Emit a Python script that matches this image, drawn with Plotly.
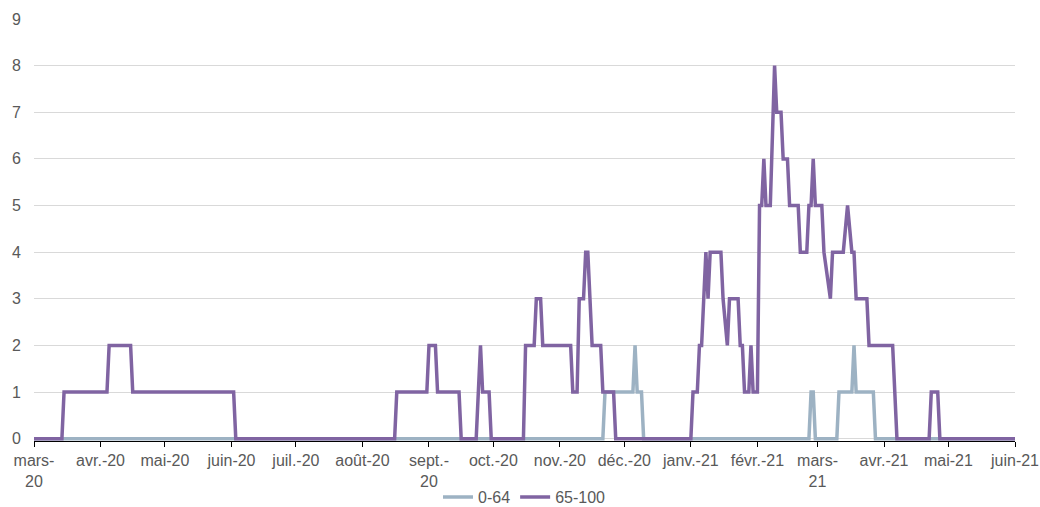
import pandas as pd
import plotly.graph_objs as go

# day offsets from 2020-03-01 where each series changes level, and the level there
start = pd.Timestamp("2020-03-01")

young_days = [0, 265, 266, 279, 280, 281, 283, 284, 361, 362, 363, 364,
              374, 375, 381, 382, 383, 391, 392, 457]
young_vals = [0, 0, 1, 1, 2, 1, 1, 0, 0, 1, 1, 0,
              0, 1, 1, 2, 1, 1, 0, 0]

old_days = [0, 13, 14, 34, 35, 45, 46, 93, 94, 168, 169, 183, 184, 187, 188,
            198, 199, 206, 208, 209, 212, 213, 228, 229, 233, 234, 236, 237,
            250, 251, 253, 254, 256, 257, 258, 260, 264, 265, 270, 271, 306,
            307, 309, 310, 311, 313, 314, 315, 320, 321, 323, 324, 328, 329,
            330, 331, 333, 334, 335, 337, 338, 339, 340, 341, 343, 345, 346,
            348, 349, 351, 352, 356, 357, 360, 361, 362, 363, 364, 367, 368,
            371, 372, 377, 379, 381, 382, 383, 388, 389, 400, 402, 417, 418,
            421, 422, 457]
old_vals = [0, 0, 1, 1, 2, 2, 1, 1, 0, 0, 1, 1, 2, 2, 1,
            1, 0, 0, 2, 1, 1, 0, 0, 2, 2, 3, 3, 2,
            2, 1, 1, 3, 3, 4, 4, 2, 2, 1, 1, 0, 0,
            1, 1, 2, 2, 4, 3, 4, 4, 3, 2, 3, 3, 2,
            2, 1, 1, 2, 1, 1, 5, 5, 6, 5, 5, 8, 7,
            7, 6, 6, 5, 5, 4, 4, 5, 5, 6, 5, 5, 4,
            3, 4, 4, 5, 4, 4, 3, 3, 2, 2, 0, 0, 1,
            1, 0, 0]

month_ticks = ["2020-03-01", "2020-04-01", "2020-05-01", "2020-06-01", "2020-07-01",
               "2020-08-01", "2020-09-01", "2020-10-01", "2020-11-01", "2020-12-01",
               "2021-01-01", "2021-02-01", "2021-03-01", "2021-04-01", "2021-05-01",
               "2021-06-01"]
month_labels = ["mars-<br>20", "avr.-20", "mai-20", "juin-20", "juil.-20", "août-20",
                "sept.-<br>20", "oct.-20", "nov.-20", "déc.-20", "janv.-21", "févr.-21",
                "mars-<br>21", "avr.-21", "mai-21", "juin-21"]

young_x = [start + pd.Timedelta(days=d) for d in young_days]
old_x = [start + pd.Timedelta(days=d) for d in old_days]

fig = go.Figure()
fig.add_trace(go.Scatter(x=young_x, y=young_vals, mode='lines', name='0-64',
                         line=dict(color='#9db2c3', width=3.5)))
fig.add_trace(go.Scatter(x=old_x, y=old_vals, mode='lines', name='65-100',
                         line=dict(color='#8064a2', width=3.5)))

fig.update_layout(
    width=1040, height=507,
    margin=dict(l=34, r=25, t=19, b=66, autoexpand=False),
    plot_bgcolor='white', paper_bgcolor='white',
    font=dict(family='Liberation Sans, Arial, sans-serif', size=16, color='#595959'),
    showlegend=True,
    legend=dict(orientation='h', x=0.5, xanchor='center', y=-0.133, yanchor='middle',
                font=dict(size=16, color='#595959'), itemwidth=30),
)
fig.update_xaxes(
    range=["2020-03-01", "2021-06-01"],
    tickvals=month_ticks, ticktext=month_labels,
    showgrid=False, zeroline=False,
    showline=True, linecolor='black', linewidth=1,
    ticks='outside', ticklen=5, tickcolor='black',
    ticklabeloverflow='allow',
    layer='below traces', automargin=False,
)
fig.update_yaxes(
    range=[-0.05, 9], tickvals=list(range(10)),
    showgrid=True, gridcolor='#d9d9d9', gridwidth=1,
    zeroline=False, showline=False, ticks='',
    ticklabelstandoff=12,
    layer='below traces', automargin=False,
)

# drop the page's default body margin so the figure fills the window exactly
fig.write_html("out.html", config={'displayModeBar': False},
               post_script="document.body.style.margin='0';document.body.style.overflow='hidden';")
